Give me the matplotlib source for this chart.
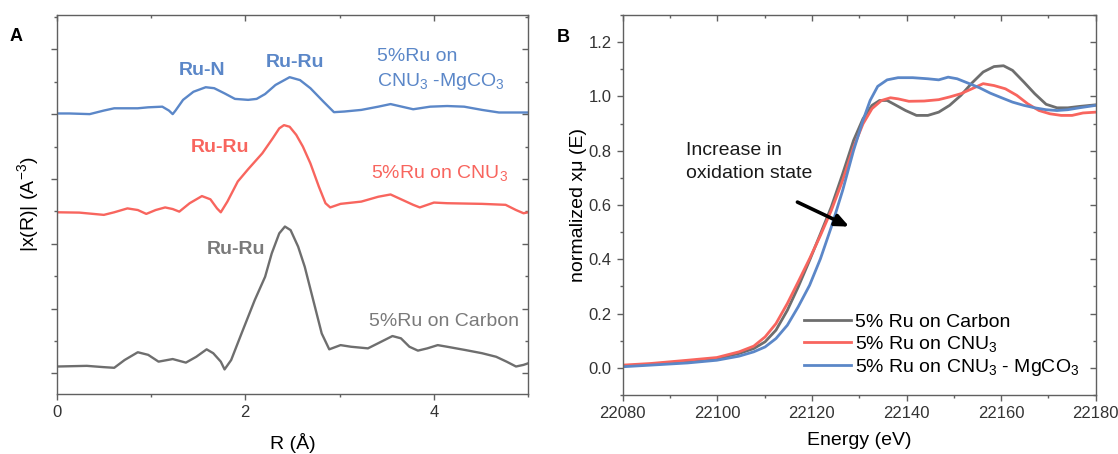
import numpy as np
import matplotlib
matplotlib.use("Agg")
import matplotlib.pyplot as plt
from matplotlib.ticker import MultipleLocator, NullFormatter

plt.rcParams['font.family'] = ['Liberation Sans', 'DejaVu Sans']
plt.rcParams['mathtext.default'] = 'regular'

# ---- panel A: Fourier transformed EXAFS (offset curves) ----
r_blue = [0.01, 0.135, 0.35, 0.50, 0.61, 0.86, 0.97, 1.12, 1.19, 1.23, 1.26, 1.34, 1.45, 1.58, 1.67,
          1.78, 1.89, 2.03, 2.12, 2.21, 2.32, 2.47, 2.58, 2.69, 2.83, 2.94, 3.05, 3.23, 3.41, 3.54,
          3.63, 3.78, 3.96, 4.14, 4.32, 4.51, 4.69, 5.00]
chi_blue = [8.02, 8.02, 8.00, 8.11, 8.18, 8.18, 8.21, 8.23, 8.11, 8.00, 8.11, 8.44, 8.69, 8.83, 8.80,
            8.64, 8.47, 8.44, 8.47, 8.62, 8.90, 9.14, 9.05, 8.80, 8.38, 8.06, 8.08, 8.13, 8.23, 8.31,
            8.25, 8.15, 8.23, 8.25, 8.23, 8.13, 8.05, 8.05]

r_red = [0.01, 0.24, 0.50, 0.61, 0.75, 0.86, 0.95, 1.05, 1.15, 1.23, 1.30, 1.41, 1.54, 1.63, 1.70,
         1.74, 1.81, 1.92, 2.03, 2.18, 2.29, 2.36, 2.41, 2.47, 2.54, 2.61, 2.69, 2.78, 2.85, 2.90,
         3.01, 3.23, 3.41, 3.54, 3.63, 3.78, 3.85, 4.00, 4.14, 4.51, 4.76, 4.87, 4.95, 5.00]
chi_red = [4.97, 4.96, 4.89, 4.97, 5.09, 5.04, 4.92, 5.04, 5.12, 5.07, 4.99, 5.25, 5.47, 5.37, 5.09,
           4.97, 5.30, 5.92, 6.30, 6.79, 7.25, 7.56, 7.66, 7.61, 7.36, 7.00, 6.48, 5.76, 5.25, 5.12,
           5.23, 5.30, 5.45, 5.52, 5.40, 5.20, 5.12, 5.27, 5.25, 5.23, 5.20, 5.04, 4.94, 4.97]

r_gray = [0.01, 0.32, 0.50, 0.61, 0.72, 0.86, 0.97, 1.08, 1.23, 1.37, 1.48, 1.59, 1.66, 1.74, 1.78,
          1.85, 1.96, 2.10, 2.21, 2.28, 2.36, 2.42, 2.48, 2.56, 2.63, 2.72, 2.81, 2.89, 3.01, 3.12,
          3.30, 3.41, 3.56, 3.65, 3.74, 3.83, 3.93, 4.04, 4.14, 4.33, 4.51, 4.66, 4.77, 4.87, 4.95, 5.00]
chi_gray = [0.21, 0.23, 0.19, 0.17, 0.41, 0.65, 0.57, 0.36, 0.44, 0.33, 0.51, 0.74, 0.62, 0.36, 0.12,
            0.41, 1.23, 2.26, 2.98, 3.70, 4.32, 4.53, 4.42, 3.91, 3.29, 2.26, 1.23, 0.74, 0.87, 0.82,
            0.77, 0.93, 1.15, 1.08, 0.82, 0.70, 0.77, 0.87, 0.82, 0.72, 0.62, 0.51, 0.36, 0.21, 0.26, 0.31]

# ---- panel B: XANES ----
e_gray = [22080.0, 22085.9, 22093.7, 22099.9, 22104.6, 22107.7, 22110.1, 22112.4, 22114.8, 22117.1,
          22119.5, 22121.8, 22124.1, 22126.5, 22128.8, 22130.8, 22132.7, 22134.3, 22135.9, 22137.4,
          22139.8, 22142.1, 22144.5, 22146.8, 22149.1, 22151.5, 22153.8, 22156.2, 22158.5, 22160.5,
          22162.4, 22164.8, 22167.1, 22169.5, 22171.8, 22174.1, 22176.5, 22180.0]
mu_gray = [0.007, 0.013, 0.025, 0.034, 0.053, 0.071, 0.096, 0.139, 0.212, 0.298,
           0.396, 0.494, 0.593, 0.715, 0.838, 0.918, 0.967, 0.985, 0.985, 0.971,
           0.948, 0.930, 0.930, 0.942, 0.967, 1.004, 1.049, 1.090, 1.110, 1.113,
           1.096, 1.053, 1.010, 0.971, 0.958, 0.958, 0.963, 0.969]

e_red = [22080.0, 22085.9, 22093.7, 22099.9, 22104.6, 22107.7, 22110.1, 22112.4, 22114.8, 22117.1,
         22119.5, 22121.8, 22124.1, 22126.5, 22128.8, 22130.8, 22132.7, 22134.7, 22136.6, 22138.2,
         22140.5, 22143.7, 22146.8, 22149.1, 22151.5, 22153.8, 22156.2, 22158.5, 22160.9, 22163.3,
         22165.6, 22168.0, 22170.3, 22172.7, 22175.0, 22177.3, 22180.0]
mu_red = [0.010, 0.016, 0.028, 0.038, 0.059, 0.080, 0.114, 0.163, 0.237, 0.317,
          0.402, 0.488, 0.580, 0.691, 0.813, 0.899, 0.955, 0.985, 0.995, 0.991,
          0.982, 0.983, 0.988, 0.998, 1.010, 1.028, 1.047, 1.040, 1.028, 1.004,
          0.973, 0.948, 0.936, 0.930, 0.930, 0.939, 0.942]

e_blue = [22080.0, 22085.9, 22093.7, 22099.9, 22104.6, 22107.7, 22110.1, 22112.4, 22114.8, 22117.1,
          22119.5, 22121.8, 22124.1, 22126.5, 22128.8, 22130.8, 22132.3, 22133.9, 22135.9, 22138.2,
          22141.3, 22144.5, 22146.8, 22148.8, 22150.7, 22153.0, 22155.4, 22157.7, 22160.1, 22162.4,
          22164.8, 22167.1, 22169.5, 22171.8, 22174.1, 22176.5, 22180.0]
mu_blue = [0.004, 0.010, 0.018, 0.028, 0.043, 0.059, 0.077, 0.108, 0.157, 0.225,
           0.304, 0.402, 0.519, 0.654, 0.801, 0.912, 0.985, 1.037, 1.061, 1.069,
           1.069, 1.065, 1.061, 1.071, 1.065, 1.049, 1.032, 1.012, 0.995, 0.979,
           0.967, 0.958, 0.951, 0.948, 0.951, 0.958, 0.967]

legend_labels = ['5% Ru on Carbon', '5% Ru on CNU$_3$', '5% Ru on CNU$_3$ - MgCO$_3$']

C_BLUE = '#5b87c8'
C_RED = '#f8655e'
C_GRAY = '#6e6e6e'
SPINE = '#606060'
TXT = '#333333'


def style_axes(ax):
    for s in ax.spines.values():
        s.set_color(SPINE)
        s.set_linewidth(1.0)
    ax.tick_params(which='both', colors=SPINE, labelcolor=TXT, labelsize=12, width=1.0)
    ax.tick_params(which='major', length=4, pad=4)
    ax.tick_params(which='minor', length=2.5)
    ax.tick_params(which='both', top=True, right=True)
    # bottom / left outward, top / right inward
    ax.xaxis.set_tick_params(which='both', direction='out')
    ax.yaxis.set_tick_params(which='both', direction='out')
    for t in ax.xaxis.get_major_ticks() + ax.xaxis.get_minor_ticks():
        t.tick2line.set_marker(3)
    for t in ax.yaxis.get_major_ticks() + ax.yaxis.get_minor_ticks():
        t.tick2line.set_marker(0)


fig = plt.figure(figsize=(11.18, 4.54), dpi=100)
axA = fig.add_axes([0.0507, 0.1315, 0.4218, 0.8355])
axB = fig.add_axes([0.557, 0.130, 0.4231, 0.837])

# ---------------- panel A ----------------
axA.plot(r_blue, chi_blue, color=C_BLUE, lw=1.7)
axA.plot(r_red, chi_red, color=C_RED, lw=1.7)
axA.plot(r_gray, chi_gray, color=C_GRAY, lw=1.7)
axA.set_xlim(0, 5)
axA.set_ylim(-0.648, 11.06)
axA.xaxis.set_major_locator(MultipleLocator(2))
axA.xaxis.set_minor_locator(MultipleLocator(1))
axA.yaxis.set_major_locator(MultipleLocator(2))
axA.yaxis.set_minor_locator(MultipleLocator(1))
axA.yaxis.set_major_formatter(NullFormatter())
axA.set_xlabel('R (Å)', fontsize=14, labelpad=9)
axA.set_ylabel('|x(R)| (A$^{-3}$)', fontsize=14, labelpad=3)
style_axes(axA)

axA.text(1.54, 9.36, 'Ru-N', color=C_BLUE, fontsize=14, fontweight='bold', ha='center', va='center')
axA.text(2.53, 9.59, 'Ru-Ru', color=C_BLUE, fontsize=14, fontweight='bold', ha='center', va='center')
axA.text(3.40, 9.77, '5%Ru on', color=C_BLUE, fontsize=14, ha='left', va='center')
axA.text(3.40, 9.00, 'CNU$_3$ -MgCO$_3$', color=C_BLUE, fontsize=14, ha='left', va='center')
axA.text(1.73, 6.96, 'Ru-Ru', color=C_RED, fontsize=14, fontweight='bold', ha='center', va='center')
axA.text(3.33, 6.17, '5%Ru on CNU$_3$', color=C_RED, fontsize=14, ha='left', va='center')
axA.text(1.90, 3.81, 'Ru-Ru', color='#7a7a7a', fontsize=14, fontweight='bold', ha='center', va='center')
axA.text(3.31, 1.59, '5%Ru on Carbon', color='#7a7a7a', fontsize=14, ha='left', va='center')

# ---------------- panel B ----------------
axB.plot(e_gray, mu_gray, color=C_GRAY, lw=2.0, label=legend_labels[0])
axB.plot(e_red, mu_red, color=C_RED, lw=2.0, label=legend_labels[1])
axB.plot(e_blue, mu_blue, color=C_BLUE, lw=2.0, label=legend_labels[2])
axB.set_xlim(22080, 22180)
axB.set_ylim(-0.1, 1.3)
axB.xaxis.set_major_locator(MultipleLocator(20))
axB.xaxis.set_minor_locator(MultipleLocator(10))
axB.yaxis.set_major_locator(MultipleLocator(0.2))
axB.yaxis.set_minor_locator(MultipleLocator(0.1))
axB.yaxis.set_major_formatter(plt.FuncFormatter(lambda v, p: '%.1f' % v))
axB.set_xlabel('Energy (eV)', fontsize=14, labelpad=8)
axB.set_ylabel('normalized xμ (E)', fontsize=14, labelpad=1)
style_axes(axB)

axB.text(22093.3, 0.80, 'Increase in', fontsize=14, color='#1a1a1a', ha='left', va='center')
axB.text(22093.3, 0.715, 'oxidation state', fontsize=14, color='#1a1a1a', ha='left', va='center')
axB.annotate('', xy=(22128.4, 0.516), xytext=(22116.4, 0.615),
             arrowprops=dict(arrowstyle='-|>,head_length=0.8,head_width=0.35', color='black', lw=2.6))

axB.legend(loc='lower left', bbox_to_anchor=(0.383, 0.045), frameon=False, fontsize=14,
           handlelength=2.4, handletextpad=0.25, labelspacing=0.15, borderpad=0, borderaxespad=0)

fig.text(16.3 / 1118, 1 - 36.3 / 454, 'A', fontsize=13, fontweight='bold', ha='center', va='center')
fig.text(563 / 1118, 1 - 37.2 / 454, 'B', fontsize=13, fontweight='bold', ha='center', va='center')

fig.savefig('out.png', dpi=100)
